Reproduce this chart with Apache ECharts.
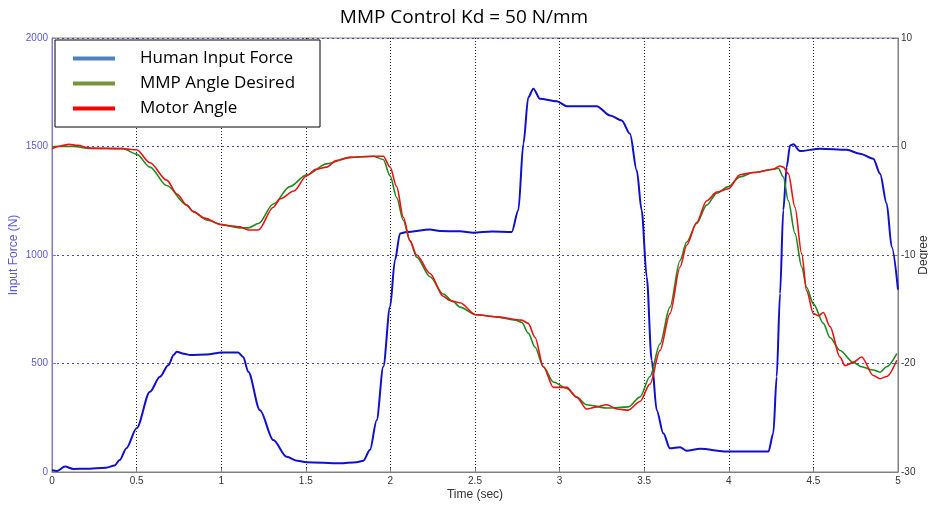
<!DOCTYPE html>
<html><head><meta charset="utf-8">
<script src="https://cdn.jsdelivr.net/npm/echarts@6/dist/echarts.min.js"></script>
<style>html,body{margin:0;padding:0;background:#fff}#c{width:928px;height:506px}</style>
</head><body><div id="c"></div>
<script>
// ---- data ----
const chartTitle = 'MMP Control Kd = 50 N/mm';
const seriesNames = ['Human Input Force', 'MMP Angle Desired', 'Motor Angle'];
const xTicks = [0, 0.5, 1, 1.5, 2, 2.5, 3, 3.5, 4, 4.5, 5];
const forceTicks = [0, 500, 1000, 1500, 2000];
const degreeTicks = [-30, -20, -10, 0, 10];

const forceTime = [0,0.03,0.077,0.126,0.2,0.32,0.37,0.40,0.44,0.50,0.579,0.638,0.687,0.72,0.737,0.78,0.816,0.914,1.003,1.10,1.13,1.16,1.229,1.308,1.387,1.45,1.505,1.70,1.80,1.84,1.879,1.919,1.958,1.998,2.027,2.057,2.096,2.234,2.293,2.411,2.49,2.60,2.717,2.756,2.786,2.815,2.845,2.884,2.983,3.042,3.219,3.298,3.367,3.416,3.456,3.485,3.515,3.544,3.574,3.613,3.652,3.712,3.751,3.83,3.988,4.234,4.263,4.283,4.303,4.322,4.342,4.362,4.382,4.42,4.539,4.697,4.775,4.854,4.894,4.933,4.963,5.0];
const forceN = [8,5,25,14,15,20,30,55,110,202,370,439,492,540,554,545,539,542,551,551,530,462,285,147,70,52,45,40,45,52,101,239,485,761,976,1099,1106,1117,1111,1109,1103,1108,1106,1206,1513,1727,1766,1720,1709,1686,1686,1643,1620,1559,1390,1206,899,516,285,178,109,114,98,107,94,94,178,439,823,1206,1405,1505,1510,1479,1490,1485,1467,1444,1375,1237,1037,840];

const desiredTime = [0,0.126,0.225,0.42,0.5,0.579,0.678,0.796,0.835,0.92,1.003,1.111,1.16,1.22,1.308,1.406,1.505,1.623,1.761,1.899,1.958,1.998,2.037,2.076,2.116,2.155,2.234,2.312,2.371,2.411,2.504,2.628,2.74,2.776,2.815,2.855,2.904,2.963,3.042,3.101,3.16,3.278,3.406,3.475,3.534,3.593,3.652,3.712,3.751,3.81,3.869,3.929,3.997,4.066,4.145,4.263,4.293,4.322,4.352,4.391,4.431,4.46,4.5,4.559,4.598,4.657,4.736,4.785,4.854,4.894,4.933,4.993];
const desiredDeg = [0,0,-0.18,-0.2,-0.7,-1.9,-3.6,-5.4,-6.0,-6.8,-7.2,-7.5,-7.5,-7.1,-5.3,-3.7,-2.6,-1.6,-1.0,-0.9,-1.2,-2.7,-4.7,-6.8,-8.7,-10.2,-12.0,-13.6,-14.3,-14.8,-15.5,-15.7,-16.0,-16.2,-17.2,-18.5,-20.3,-21.7,-22.3,-23.1,-23.8,-24.1,-24.0,-23.1,-21.2,-18.2,-14.8,-10.5,-8.8,-7.1,-5.4,-4.3,-3.7,-2.8,-2.4,-2.1,-2.0,-2.8,-5.0,-8.0,-11.1,-13.0,-14.5,-16.3,-17.6,-18.8,-19.9,-20.3,-20.6,-20.8,-20.3,-19.1];

const motorTime = [0,0.05,0.1,0.15,0.225,0.42,0.5,0.579,0.678,0.74,0.796,0.835,0.9,1.003,1.05,1.111,1.16,1.22,1.308,1.35,1.43,1.505,1.56,1.623,1.68,1.761,1.899,1.958,1.998,2.037,2.076,2.116,2.155,2.234,2.312,2.352,2.411,2.504,2.628,2.776,2.815,2.855,2.904,2.963,3.042,3.101,3.16,3.22,3.278,3.34,3.406,3.475,3.534,3.593,3.652,3.712,3.751,3.81,3.869,3.929,3.997,4.066,4.145,4.263,4.3,4.322,4.352,4.391,4.431,4.46,4.5,4.53,4.559,4.598,4.657,4.687,4.736,4.785,4.854,4.894,4.933,4.993];
const motorDeg = [-0.2,0.05,0.2,0.1,-0.15,-0.2,-0.3,-1.5,-3.1,-4.4,-5.4,-6.0,-6.6,-7.2,-7.3,-7.4,-7.7,-7.7,-5.6,-4.8,-4.1,-2.7,-2.1,-1.9,-1.3,-1.0,-0.9,-0.9,-1.9,-3.7,-6.5,-8.7,-10.0,-11.7,-13.8,-14.2,-14.4,-15.5,-15.7,-16.0,-16.3,-17.6,-20.3,-22.2,-22.2,-23.1,-24.2,-24.0,-23.8,-24.2,-24.3,-23.5,-21.9,-18.8,-15.4,-11.1,-9.1,-7.0,-5.0,-4.2,-3.9,-2.6,-2.4,-2.1,-1.8,-1.9,-2.5,-5.6,-9.9,-13.3,-15.4,-15.6,-15.3,-16.6,-19.4,-20.2,-19.9,-19.4,-21.1,-21.4,-21.2,-19.7];

const lineColors = ['#1010cc', '#1f8a1f', '#ee1111'];
const legendColors = ['#4f81bd', '#77933c', '#ff0000'];

const pairs = (xs, ys) => xs.map((x, i) => [x, ys[i]]);

const chart = echarts.init(document.getElementById('c'), null, {renderer: 'canvas'});
const axisFont = 'Liberation Sans Narrow, Liberation Sans, Arial, sans-serif';
chart.setOption({
  animation: false,
  backgroundColor: '#ffffff',
  title: {
    text: chartTitle, left: 'center', top: 3,
    textStyle: {fontFamily: 'Open Sans, Liberation Sans, sans-serif', fontSize: 19, fontWeight: 'normal', color: '#000'}
  },
  legend: {
    left: 55, top: 40, orient: 'vertical',
    backgroundColor: '#fff', borderColor: '#000', borderWidth: 1,
    padding: [9, 10, 9, 18], itemGap: 6,
    itemWidth: 42, itemHeight: 4, icon: 'rect',
    textStyle: {fontFamily: 'Open Sans, Liberation Sans, sans-serif', fontSize: 17, color: '#000', padding: [0, 0, 0, 20], width: 170, lineHeight: 19},
    data: seriesNames.map((n, i) => ({name: n, icon: 'rect', itemStyle: {color: legendColors[i]}}))
  },
  grid: {left: 52, right: 30, top: 38, bottom: 34, show: true, borderColor: '#808080', borderWidth: 1, containLabel: false, outerBoundsMode: 'none'},
  xAxis: {
    type: 'value', min: 0, max: 5, interval: 0.5,
    name: 'Time (sec)', nameLocation: 'middle', nameGap: 17, nameMoveOverlap: false,
    nameTextStyle: {fontFamily: axisFont, fontSize: 12, color: '#333'},
    axisLine: {lineStyle: {color: '#808080'}},
    axisTick: {inside: true, length: 4, lineStyle: {color: '#808080'}},
    axisLabel: {fontFamily: axisFont, fontSize: 10, color: '#333', margin: 4, formatter: v => xTicks.includes(v) ? String(v) : ''},
    splitLine: {show: true, lineStyle: {color: '#222', type: [1, 2], width: 1}}
  },
  yAxis: [{
    type: 'value', min: forceTicks[0], max: forceTicks[forceTicks.length - 1], interval: 500,
    name: 'Input Force (N)', nameLocation: 'middle', nameGap: 32, nameMoveOverlap: false,
    nameTextStyle: {fontFamily: axisFont, fontSize: 12, color: '#5a5ad6'},
    axisLine: {show: true, lineStyle: {color: '#7a7ae0'}},
    axisTick: {inside: true, length: 4, lineStyle: {color: '#7a7ae0'}},
    axisLabel: {fontFamily: axisFont, fontSize: 10, color: '#5a5ad6', margin: 4, formatter: v => String(v)},
    splitLine: {show: true, lineStyle: {color: '#4848c8', type: [2, 3], width: 1}}
  }, {
    type: 'value', min: degreeTicks[0], max: degreeTicks[degreeTicks.length - 1], interval: 10, position: 'right',
    name: 'Degree', nameLocation: 'middle', nameGap: 20, nameRotate: 90, nameMoveOverlap: false,
    nameTextStyle: {fontFamily: axisFont, fontSize: 12, color: '#333'},
    axisLine: {show: true, lineStyle: {color: '#808080'}},
    axisTick: {inside: true, length: 4, lineStyle: {color: '#808080'}},
    axisLabel: {fontFamily: axisFont, fontSize: 10, color: '#333', margin: 3, formatter: v => String(v)},
    splitLine: {show: false}
  }],
  series: [
    {name: seriesNames[0], type: 'line', yAxisIndex: 0, data: pairs(forceTime, forceN), showSymbol: false, smooth: 0.3, smoothMonotone: 'x', lineStyle: {color: lineColors[0], width: 2}, itemStyle: {color: lineColors[0]}, z: 3},
    {name: seriesNames[1], type: 'line', yAxisIndex: 1, data: pairs(desiredTime, desiredDeg), showSymbol: false, smooth: 0.3, smoothMonotone: 'x', lineStyle: {color: lineColors[1], width: 1.6}, itemStyle: {color: lineColors[1]}, z: 4},
    {name: seriesNames[2], type: 'line', yAxisIndex: 1, data: pairs(motorTime, motorDeg), showSymbol: false, smooth: 0.3, smoothMonotone: 'x', lineStyle: {color: lineColors[2], width: 1.6}, itemStyle: {color: lineColors[2]}, z: 5}
  ]
});
</script></body></html>
